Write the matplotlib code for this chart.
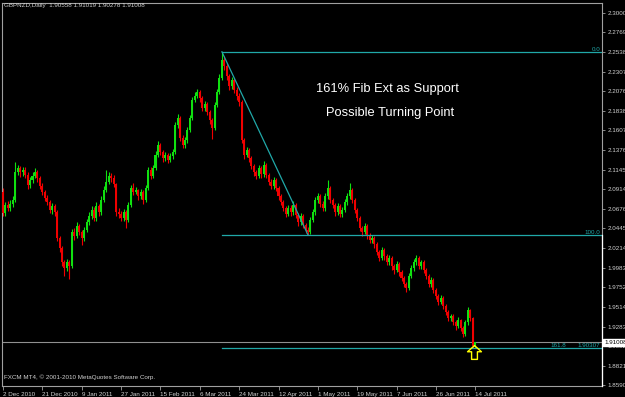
import matplotlib as mpl
mpl.use('Agg')
import matplotlib.pyplot as plt
import numpy as np
from matplotlib.path import Path
from matplotlib.transforms import blended_transform_factory

# GBPNZD daily bars, 2 Dec 2010 .. 14 Jul 2011
first_open = 2.0877
closes = [
    2.0629, 2.0723, 2.0688, 2.0735, 2.0783, 2.1114, 2.1162, 2.1114, 2.1138, 2.1079,
    2.0960, 2.1019, 2.1067, 2.1114, 2.1043, 2.0948, 2.0877, 2.0806, 2.0759, 2.0664,
    2.0711, 2.0640, 2.0333, 2.0214, 2.0048, 1.9977, 2.0048, 2.0001, 2.0404, 2.0356,
    2.0475, 2.0404, 2.0333, 2.0427, 2.0522, 2.0593, 2.0664, 2.0569, 2.0711, 2.0640,
    2.0783, 2.0901, 2.0996, 2.1067, 2.1043, 2.0972, 2.0640, 2.0617, 2.0569, 2.0640,
    2.0546, 2.0723, 2.0925, 2.0877, 2.0901, 2.0830, 2.0877, 2.0783, 2.0925, 2.1138,
    2.1067, 2.1162, 2.1316, 2.1434, 2.1351, 2.1280, 2.1316, 2.1256, 2.1304, 2.1351,
    2.1671, 2.1754, 2.1517, 2.1434, 2.1493, 2.1612, 2.1754, 2.1967, 2.2014, 2.2062,
    2.1991, 2.1872, 2.1919, 2.1825, 2.1730, 2.1635, 2.1908, 2.2062, 2.2227, 2.2440,
    2.2369, 2.2251, 2.2133, 2.2204, 2.2085, 2.2014, 2.1943, 2.1493, 2.1316, 2.1375,
    2.1280, 2.1185, 2.1114, 2.1067, 2.1162, 2.1090, 2.1197, 2.1079, 2.0996, 2.0948,
    2.1019, 2.0925, 2.0830, 2.0759, 2.0688, 2.0617, 2.0688, 2.0640, 2.0723, 2.0605,
    2.0522, 2.0593, 2.0487, 2.0427, 2.0404, 2.0546, 2.0640, 2.0783, 2.0830, 2.0735,
    2.0688, 2.0830, 2.0925, 2.0783, 2.0723, 2.0640, 2.0711, 2.0617, 2.0664, 2.0759,
    2.0830, 2.0901, 2.0783, 2.0664, 2.0569, 2.0451, 2.0404, 2.0475, 2.0356, 2.0309,
    2.0333, 2.0262, 2.0167, 2.0096, 2.0190, 2.0119, 2.0048, 2.0096, 2.0001, 1.9954,
    2.0025, 1.9930, 1.9859, 1.9788, 1.9741, 1.9883, 1.9977, 2.0048, 2.0096, 2.0001,
    2.0048, 1.9954, 1.9883, 1.9788, 1.9835, 1.9717, 1.9646, 1.9575, 1.9622, 1.9527,
    1.9456, 1.9385, 1.9409, 1.9338, 1.9291, 1.9362, 1.9267, 1.9196, 1.9338, 1.9480,
    1.9385, 1.90558, 1.91008,
]
highs = [
    2.0930, 2.0760, 2.0770, 2.0780, 2.0830, 2.1232, 2.1200, 2.1190, 2.1180, 2.1170,
    2.1120, 2.1060, 2.1110, 2.1160, 2.1140, 2.1070, 2.0980, 2.0900, 2.0840, 2.0790,
    2.0750, 2.0740, 2.0670, 2.0360, 2.0240, 2.0080, 2.0090, 2.0070, 2.0440, 2.0450,
    2.0520, 2.0500, 2.0430, 2.0470, 2.0560, 2.0640, 2.0710, 2.0700, 2.0760, 2.0740,
    2.0830, 2.0950, 2.1138, 2.1110, 2.1100, 2.1080, 2.0990, 2.0690, 2.0650, 2.0680,
    2.0670, 2.0760, 2.0960, 2.0980, 2.0940, 2.0920, 2.0920, 2.0900, 2.0960, 2.1180,
    2.1170, 2.1200, 2.1360, 2.1480, 2.1460, 2.1380, 2.1350, 2.1340, 2.1340, 2.1390,
    2.1710, 2.1800, 2.1780, 2.1550, 2.1530, 2.1650, 2.1790, 2.2000, 2.2060, 2.2100,
    2.2090, 2.2020, 2.1960, 2.1950, 2.1850, 2.1760, 2.1950, 2.2100, 2.2270, 2.25385,
    2.2490, 2.2400, 2.2280, 2.2240, 2.2230, 2.2120, 2.2050, 2.1970, 2.1520, 2.1410,
    2.1400, 2.1310, 2.1210, 2.1140, 2.1200, 2.1190, 2.1250, 2.1220, 2.1100, 2.1030,
    2.1060, 2.1040, 2.0950, 2.0860, 2.0790, 2.0710, 2.0730, 2.0720, 2.0770, 2.0750,
    2.0630, 2.0630, 2.0620, 2.0510, 2.0460, 2.0580, 2.0680, 2.0820, 2.0870, 2.0860,
    2.0770, 2.0870, 2.1019, 2.0950, 2.0810, 2.0750, 2.0750, 2.0740, 2.0700, 2.0800,
    2.0870, 2.0990, 2.0930, 2.0810, 2.0690, 2.0600, 2.0480, 2.0510, 2.0500, 2.0390,
    2.0370, 2.0360, 2.0290, 2.0190, 2.0230, 2.0220, 2.0150, 2.0130, 2.0120, 2.0030,
    2.0060, 2.0050, 1.9960, 1.9880, 1.9810, 1.9920, 2.0010, 2.0090, 2.0130, 2.0120,
    2.0080, 2.0070, 1.9980, 1.9910, 1.9870, 1.9860, 1.9740, 1.9670, 1.9660, 1.9650,
    1.9550, 1.9480, 1.9440, 1.9430, 1.9360, 1.9400, 1.9380, 1.9290, 1.9370, 1.9520,
    1.9500, 1.9400, 1.91019,
]
lows = [
    2.0590, 2.0600, 2.0650, 2.0660, 2.0700, 2.0760, 2.1080, 2.1060, 2.1070, 2.1040,
    2.0920, 2.0930, 2.0990, 2.1040, 2.1000, 2.0910, 2.0840, 2.0770, 2.0720, 2.0630,
    2.0620, 2.0600, 2.0300, 2.0170, 2.0000, 1.9890, 1.9940, 1.9850, 1.9980, 2.0310,
    2.0330, 2.0370, 2.0250, 2.0300, 2.0400, 2.0490, 2.0560, 2.0530, 2.0540, 2.0600,
    2.0610, 2.0760, 2.0880, 2.0970, 2.1000, 2.0940, 2.0600, 2.0570, 2.0530, 2.0540,
    2.0450, 2.0520, 2.0700, 2.0840, 2.0850, 2.0790, 2.0800, 2.0740, 2.0760, 2.0900,
    2.1030, 2.1040, 2.1140, 2.1290, 2.1320, 2.1240, 2.1250, 2.1220, 2.1230, 2.1270,
    2.1330, 2.1640, 2.1480, 2.1400, 2.1400, 2.1460, 2.1590, 2.1730, 2.1940, 2.1990,
    2.1950, 2.1840, 2.1840, 2.1790, 2.1680, 2.1510, 2.1610, 2.1880, 2.2040, 2.2200,
    2.2320, 2.2210, 2.2090, 2.2100, 2.2050, 2.1970, 2.1900, 2.1460, 2.1270, 2.1290,
    2.1240, 2.1150, 2.1070, 2.1030, 2.1040, 2.1050, 2.1060, 2.1040, 2.0960, 2.0910,
    2.0920, 2.0890, 2.0790, 2.0720, 2.0650, 2.0580, 2.0590, 2.0600, 2.0610, 2.0570,
    2.0480, 2.0490, 2.0450, 2.0390, 2.03705, 2.0380, 2.0520, 2.0610, 2.0750, 2.0700,
    2.0650, 2.0660, 2.0800, 2.0750, 2.0690, 2.0600, 2.0610, 2.0580, 2.0580, 2.0640,
    2.0730, 2.0800, 2.0750, 2.0630, 2.0530, 2.0420, 2.0360, 2.0380, 2.0320, 2.0270,
    2.0280, 2.0220, 2.0130, 2.0060, 2.0070, 2.0080, 2.0010, 2.0020, 1.9960, 1.9910,
    1.9930, 1.9890, 1.9820, 1.9750, 1.9700, 1.9720, 1.9860, 1.9950, 2.0020, 1.9970,
    1.9970, 1.9920, 1.9850, 1.9750, 1.9760, 1.9680, 1.9610, 1.9540, 1.9550, 1.9490,
    1.9420, 1.9350, 1.9350, 1.9300, 1.9250, 1.9270, 1.9230, 1.9160, 1.9180, 1.9310,
    1.9350, 1.9030, 1.90278,
]

date_labels = ['2 Dec 2010', '21 Dec 2010', '9 Jan 2011', '27 Jan 2011', '15 Feb 2011',
               '6 Mar 2011', '24 Mar 2011', '12 Apr 2011', '1 May 2011', '19 May 2011',
               '7 Jun 2011', '26 Jun 2011', '14 Jul 2011']
bars_per_label = 16

price_labels = ['1.85907', '1.88217', '1.90527', '1.92837', '1.95147', '1.97527', '1.99837',
                '2.02147', '2.04457', '2.06767', '2.09147', '2.11457', '2.13767', '2.16077',
                '2.18387', '2.20767', '2.23077', '2.25387', '2.27697', '2.30007']

# fibonacci expansion: swing high bar -> swing low bar
fib_bars = [89, 124]
fib_levels = [0.0, 100.0, 161.8]
fib_texts = ['0.0', '100.0', '161.8']
fib_value_text = '1.90307'

symbol_text = 'GBPNZD,Daily  1.90558 1.91019 1.90278 1.91008'
copyright_text = 'FXCM MT4, \u00a9 2001-2010 MetaQuotes Software Corp.'
note_lines = ['161% Fib Ext as Support', 'Possible Turning Point']

GREEN = '#10e010'
RED = '#f00000'
FIB = '#20a8a8'
AXIS = '#a0a0a0'
LABEL = '#d0d0d0'
SMALL = dict(family='Liberation Sans', fontsize=4.5)

closes = np.array(closes)
highs = np.array(highs)
lows = np.array(lows)
opens = np.concatenate([[first_open], closes[:-1]])
n = len(closes)
x = np.arange(n)

fig = plt.figure(figsize=(6.25, 3.97), dpi=100, facecolor='black')
ax = fig.add_axes([2 / 625, 11 / 397, 600 / 625, 383 / 397])
ax.set_facecolor('black')

up = closes >= opens
cols = np.where(up, GREEN, RED)
ax.vlines(x, lows, highs, colors=cols, linewidth=0.8, zorder=2)
body_lo = np.minimum(opens, closes)
body_h = np.maximum(np.abs(closes - opens), 0.0005)
ax.bar(x, body_h, bottom=body_lo, width=0.82, color=cols, linewidth=0, zorder=3)

ax.set_xlim(-0.4, 243.5)
ax.set_ylim(1.8583, 2.3116)

# fib expansion
hi_bar, lo_bar = fib_bars
fib_hi = highs[hi_bar]
fib_lo = lows[lo_bar]
ax.plot([hi_bar, lo_bar], [fib_hi, fib_lo], color=FIB, lw=0.9, zorder=4)
trans_x = blended_transform_factory(ax.transAxes, ax.transData)
for lvl, txt in zip(fib_levels, fib_texts):
    p = fib_hi - lvl / 100 * (fib_hi - fib_lo)
    ax.plot([hi_bar, 244], [p, p], color=FIB, lw=0.9, zorder=4)
    if lvl == 161.8:
        ax.text(0.94, p, txt, transform=trans_x, color=FIB, ha='right', va='bottom', **SMALL)
        ax.text(0.997, p, fib_value_text, transform=trans_x, color=FIB, ha='right',
                va='bottom', **SMALL)
    else:
        ax.text(0.997, p, txt, transform=trans_x, color=FIB, ha='right', va='bottom', **SMALL)

# current price line + label
last = closes[-1]
ax.axhline(last, color='#909090', lw=0.8, zorder=1)
ax.text(1.004, last, f'{last:.5f}', transform=trans_x, ha='left', va='center', color='black',
        bbox=dict(boxstyle='square,pad=0.15', fc='white', ec='white'), clip_on=False,
        zorder=10, **SMALL)

# yellow hollow arrow under the last bar
arrow = Path([(0, 0), (1, -0.9), (0.42, -0.9), (0.42, -2), (-0.42, -2), (-0.42, -0.9),
              (-1, -0.9), (0, 0)])
ax.plot([n - 1.5], [lows[-1] + 0.004], marker=arrow, markersize=20, markerfacecolor='none',
        markeredgecolor='#ffff00', markeredgewidth=1.0, zorder=6)

# notes
ax.text(0.642, 0.775, note_lines[0], transform=ax.transAxes, color='white', ha='center',
        va='center', family='Liberation Sans', fontsize=9.3)
ax.text(0.647, 0.712, note_lines[1], transform=ax.transAxes, color='white', ha='center',
        va='center', family='Liberation Sans', fontsize=9.3)

# axes styling
for s in ax.spines.values():
    s.set_color(AXIS)
    s.set_linewidth(0.8)
ax.plot([1, 1], [ax.get_ylim()[0], fib_lo], transform=trans_x, color='white', lw=0.9,
        clip_on=False, zorder=8)

ax.yaxis.tick_right()
ax.set_yticks(np.linspace(1.85907, 2.30007, len(price_labels)))
ax.set_yticklabels(price_labels, color=LABEL, **SMALL)
ax.tick_params(axis='y', length=2.5, width=0.6, color=AXIS, pad=1.5)

ax.set_xticks(np.arange(0, n, bars_per_label))
ax.set_xticklabels(date_labels, color=LABEL, **SMALL)
for lbl in ax.get_xticklabels():
    lbl.set_ha('left')
ax.tick_params(axis='x', length=3, width=0.6, color=AXIS, pad=1.5)

fig.text(4 / 625, 1 - 6 / 397, symbol_text, color=LABEL, va='center', ha='left', **SMALL)
ax.text(0.003, 0.022, copyright_text, transform=ax.transAxes, color=LABEL, va='center',
        ha='left', **SMALL)

fig.savefig('out.png', dpi=100, facecolor='black')
